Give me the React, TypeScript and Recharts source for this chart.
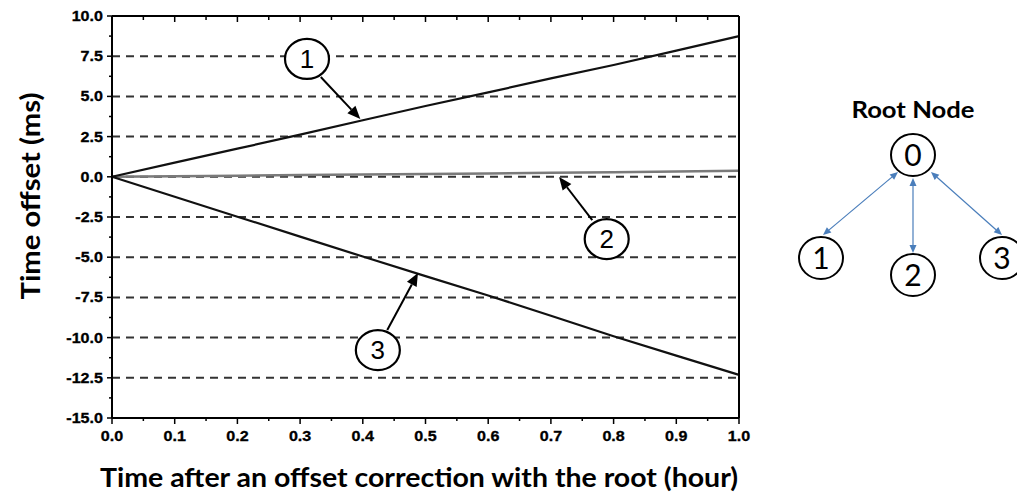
import React from "react";
import { LineChart, Line, XAxis, YAxis, ReferenceLine, ReferenceDot } from "recharts";

// ---- data ----
const hours = [0, 0.1, 0.2, 0.3, 0.4, 0.5, 0.6, 0.7, 0.8, 0.9, 1.0];
const node1Offset = [0, 0.88, 1.75, 2.62, 3.52, 4.4, 5.25, 6.12, 6.95, 7.85, 8.75];
const node2Offset = [0, 0.035, 0.07, 0.105, 0.14, 0.175, 0.21, 0.25, 0.29, 0.33, 0.37];
const node3Offset = [0, -1.24, -2.48, -3.72, -4.96, -6.18, -7.38, -8.64, -9.92, -11.12, -12.32];

const xMajorTicks = [0, 0.1, 0.2, 0.3, 0.4, 0.5, 0.6, 0.7, 0.8, 0.9, 1.0];
const xMinorTicks = [0.05, 0.15, 0.25, 0.35, 0.45, 0.55, 0.65, 0.75, 0.85, 0.95];
const yMajorTicks = [-15, -12.5, -10, -7.5, -5, -2.5, 0, 2.5, 5, 7.5, 10];
const yMinorTicks = [-13.75, -11.25, -8.75, -6.25, -3.75, -1.25, 1.25, 3.75, 6.25, 8.75];
const gridValues = [-12.5, -10, -7.5, -5, -2.5, 0, 2.5, 5, 7.5];

const calloutLabels = ["1", "2", "3"];
const calloutX = [0.311, 0.789, 0.424];
const calloutY = [7.33, -3.87, -10.78];
const arrowFromX = [0.333, 0.766, 0.439];
const arrowFromY = [6.21, -2.69, -9.53];
const arrowToX = [0.396, 0.713, 0.488];
const arrowToY = [3.59, -0.01, -5.98];

const xTitle = "Time after an offset correction with the root (hour)";
const yTitle = "Time offset (ms)";
const diagramTitle = "Root Node";
const diagramNodes = ["0", "1", "2", "3"];

const data = hours.map((t, i) => ({
  t,
  n1: node1Offset[i],
  n2: node2Offset[i],
  n3: node3Offset[i],
}));

const allX = [...xMajorTicks, ...xMinorTicks].sort((a, b) => a - b);
const allY = [...yMajorTicks, ...yMinorTicks].sort((a, b) => a - b);

const isMajor = (v: number, majors: number[]) => majors.some((m) => Math.abs(m - v) < 1e-6);

const tickFont = "'Liberation Sans', Arial, sans-serif";
const titleFont = "Lato, 'Open Sans', sans-serif";

const BottomTick = (props: any) => {
  const { x, y, payload } = props;
  const major = isMajor(payload.value, xMajorTicks);
  return (
    <g>
      <line x1={x} y1={y} x2={x} y2={y + (major ? 6 : 3)} stroke="#000" strokeWidth={1.5} />
      {major && (
        <text
          transform={`translate(${x},${y + 23}) scale(1.15,1)`}
          textAnchor="middle"
          fontFamily={tickFont}
          fontWeight="bold"
          fontSize={14}
          fill="#000"
          stroke="#000"
          strokeWidth={0.3}
        >
          {payload.value.toFixed(1)}
        </text>
      )}
    </g>
  );
};

const TopTick = (props: any) => {
  const { x, y, payload } = props;
  const major = isMajor(payload.value, xMajorTicks);
  return <line x1={x} y1={y} x2={x} y2={y + (major ? 6 : 4)} stroke="#000" strokeWidth={1.5} />;
};

const LeftTick = (props: any) => {
  const { x, y, payload } = props;
  const major = isMajor(payload.value, yMajorTicks);
  return (
    <g>
      <line x1={x - (major ? 5 : 3)} y1={y} x2={x} y2={y} stroke="#000" strokeWidth={1.5} />
      {major && (
        <text
          transform={`translate(${x - 9},${y + 5}) scale(1.15,1)`}
          textAnchor="end"
          fontFamily={tickFont}
          fontWeight="bold"
          fontSize={14}
          fill="#000"
          stroke="#000"
          strokeWidth={0.3}
        >
          {payload.value.toFixed(1)}
        </text>
      )}
    </g>
  );
};

const RightTick = (props: any) => {
  const { x, y, payload } = props;
  const major = isMajor(payload.value, yMajorTicks);
  return <line x1={x} y1={y} x2={x + (major ? 5 : 3)} y2={y} stroke="#000" strokeWidth={1.5} />;
};

const headPoints = (x1: number, y1: number, x2: number, y2: number, hl: number, hw: number) => {
  const dx = x2 - x1;
  const dy = y2 - y1;
  const L = Math.hypot(dx, dy) || 1;
  const ux = dx / L;
  const uy = dy / L;
  const bx = x2 - ux * hl;
  const by = y2 - uy * hl;
  return {
    bx,
    by,
    pts: `${x2},${y2} ${bx - uy * hw},${by + ux * hw} ${bx + uy * hw},${by - ux * hw}`,
  };
};

const ArrowShape = (p: any) => {
  const { x1, y1, x2, y2 } = p;
  if ([x1, y1, x2, y2].some((v) => typeof v !== "number" || isNaN(v))) return <g />;
  const h = headPoints(x1, y1, x2, y2, 13, 5.5);
  return (
    <g>
      <line x1={x1} y1={y1} x2={h.bx} y2={h.by} stroke="#000" strokeWidth={2} />
      <polygon points={h.pts} fill="#000" />
    </g>
  );
};

const makeCallout = (label: string) => (p: any) => {
  const { cx, cy } = p;
  return (
    <g>
      <ellipse cx={cx} cy={cy} rx={22} ry={20} fill="#fff" stroke="#000" strokeWidth={2.2} />
      <text x={cx} y={cy + 9} textAnchor="middle" fontFamily={tickFont} fontSize={26} fill="#000">
        {label}
      </text>
    </g>
  );
};

const BlueArrow = ({ x1, y1, x2, y2 }: { x1: number; y1: number; x2: number; y2: number }) => {
  const a = headPoints(x1, y1, x2, y2, 8, 3.5);
  const b = headPoints(x2, y2, x1, y1, 8, 3.5);
  return (
    <g>
      <line x1={b.bx} y1={b.by} x2={a.bx} y2={a.by} stroke="#4a7ebb" strokeWidth={1.2} />
      <polygon points={a.pts} fill="#4a7ebb" />
      <polygon points={b.pts} fill="#4a7ebb" />
    </g>
  );
};

const NodeCircle = ({ cx, cy, label }: { cx: number; cy: number; label: string }) => (
  <g>
    <ellipse cx={cx} cy={cy} rx={22} ry={21} fill="#fff" stroke="#000" strokeWidth={2} />
    <text x={cx} y={cy + 11} textAnchor="middle" fontFamily={titleFont} fontSize={30} fill="#000">
      {label}
    </text>
  </g>
);

export default function App() {
  return (
    <div style={{ position: "absolute", left: 0, top: 0, width: 1017, height: 503, background: "#fff" }}>
      <LineChart
        width={1017}
        height={503}
        data={data}
        margin={{ top: 15, right: 277, bottom: 55, left: 52 }}
      >
        <XAxis
          xAxisId="b"
          dataKey="t"
          type="number"
          domain={[0, 1]}
          ticks={allX}
          interval={0}
          orientation="bottom"
          height={30}
          tickSize={0}
          tickMargin={0}
          tickLine={false}
          tick={<BottomTick />}
          axisLine={{ stroke: "#000", strokeWidth: 2 }}
        />
        <XAxis
          xAxisId="t"
          dataKey="t"
          type="number"
          domain={[0, 1]}
          ticks={allX}
          interval={0}
          orientation="top"
          height={1}
          tickSize={0}
          tickMargin={0}
          tickLine={false}
          tick={<TopTick />}
          axisLine={{ stroke: "#000", strokeWidth: 2 }}
        />
        <YAxis
          yAxisId="l"
          type="number"
          domain={[-15, 10]}
          ticks={allY}
          interval={0}
          orientation="left"
          width={60}
          tickSize={0}
          tickMargin={0}
          tickLine={false}
          tick={<LeftTick />}
          axisLine={{ stroke: "#000", strokeWidth: 2 }}
        />
        <YAxis
          yAxisId="r"
          type="number"
          domain={[-15, 10]}
          ticks={allY}
          interval={0}
          orientation="right"
          width={1}
          tickSize={0}
          tickMargin={0}
          tickLine={false}
          tick={<RightTick />}
          axisLine={{ stroke: "#000", strokeWidth: 2 }}
        />
        {gridValues.map((v) => (
          <ReferenceLine
            key={`g${v}`}
            xAxisId="b"
            yAxisId="l"
            y={v}
            stroke="#333"
            strokeWidth={2}
            strokeDasharray="8 6"
          />
        ))}
        <Line
          xAxisId="b"
          yAxisId="l"
          dataKey="n2"
          type="linear"
          stroke="#7a7a7a"
          strokeWidth={2.5}
          dot={false}
          isAnimationActive={false}
        />
        <Line
          xAxisId="b"
          yAxisId="l"
          dataKey="n1"
          type="linear"
          stroke="#111"
          strokeWidth={2.2}
          dot={false}
          isAnimationActive={false}
        />
        <Line
          xAxisId="b"
          yAxisId="l"
          dataKey="n3"
          type="linear"
          stroke="#111"
          strokeWidth={2.2}
          dot={false}
          isAnimationActive={false}
        />
        {calloutLabels.map((lab, i) => (
          <ReferenceLine
            key={`a${lab}`}
            xAxisId="b"
            yAxisId="l"
            segment={[
              { x: arrowFromX[i], y: arrowFromY[i] },
              { x: arrowToX[i], y: arrowToY[i] },
            ]}
            shape={ArrowShape}
          />
        ))}
        {calloutLabels.map((lab, i) => (
          <ReferenceDot
            key={`c${lab}`}
            xAxisId="b"
            yAxisId="l"
            x={calloutX[i]}
            y={calloutY[i]}
            r={20}
            shape={makeCallout(lab)}
          />
        ))}
      </LineChart>
      <svg
        width={1017}
        height={503}
        style={{ position: "absolute", left: 0, top: 0, pointerEvents: "none" }}
      >
        <text
          x={419}
          y={487}
          textAnchor="middle"
          fontFamily={titleFont}
          fontWeight="bold"
          fontSize={26}
          textLength={638}
          lengthAdjust="spacingAndGlyphs"
          fill="#000"
        >
          {xTitle}
        </text>
        <text
          transform="translate(40,196) rotate(-90)"
          textAnchor="middle"
          fontFamily={titleFont}
          fontWeight="bold"
          fontSize={26}
          textLength={207}
          lengthAdjust="spacingAndGlyphs"
          fill="#000"
        >
          {yTitle}
        </text>
        <text
          x={913}
          y={118}
          textAnchor="middle"
          fontFamily={titleFont}
          fontWeight="bold"
          fontSize={22}
          textLength={123}
          lengthAdjust="spacingAndGlyphs"
          fill="#000"
        >
          {diagramTitle}
        </text>
        <BlueArrow x1={898} y1={172} x2={823} y2={235} />
        <BlueArrow x1={913} y1={178} x2={913} y2={253} />
        <BlueArrow x1={931} y1={172} x2={1002} y2={235} />
        <NodeCircle cx={913} cy={155} label={diagramNodes[0]} />
        <NodeCircle cx={821} cy={258} label={diagramNodes[1]} />
        <NodeCircle cx={913} cy={275} label={diagramNodes[2]} />
        <NodeCircle cx={1002} cy={258} label={diagramNodes[3]} />
      </svg>
    </div>
  );
}
